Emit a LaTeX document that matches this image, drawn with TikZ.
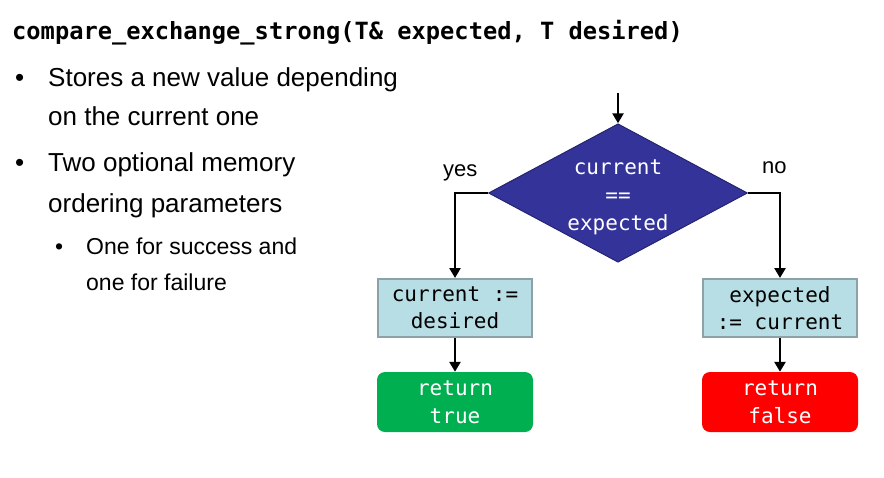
\documentclass[tikz,border=0pt]{standalone}
\usepackage{fontspec}
\setmainfont{Liberation Sans}
\newfontfamily\codefont{DejaVu Sans Mono}
\usetikzlibrary{shapes.geometric,arrows.meta}
\definecolor{diafill}{RGB}{51,51,153}
\definecolor{diaedge}{RGB}{36,36,110}
\definecolor{boxfill}{RGB}{183,222,228}
\definecolor{boxedge}{RGB}{140,162,166}
\definecolor{okgreen}{RGB}{0,176,80}
\definecolor{failred}{RGB}{255,0,0}
\begin{document}
\begin{tikzpicture}[x=1pt,y=-1pt,
  conn/.style={line width=2.7pt,-{Triangle[length=10pt,width=11pt]}},
  body/.style={font=\fontsize{26}{30}\selectfont,anchor=base west,inner sep=0pt},
  subbody/.style={font=\fontsize{23}{27}\selectfont,anchor=base west,inner sep=0pt},
  lbl/.style={font=\fontsize{22}{26}\selectfont,anchor=base west,inner sep=0pt},
  decision/.style={diamond,aspect=1.87,draw=diaedge,line width=1pt,fill=diafill,text=white,align=center,
    minimum width=258pt,minimum height=138pt,inner sep=0pt,font=\codefont\fontsize{21}{28}\selectfont},
  action/.style={rectangle,draw=boxedge,line width=2pt,fill=boxfill,align=center,
    minimum width=154pt,minimum height=58pt,inner sep=0pt,font=\codefont\fontsize{21}{27}\selectfont},
  result/.style={rectangle,rounded corners=8pt,text=white,align=center,
    minimum width=156pt,minimum height=60pt,inner sep=0pt,font=\codefont\fontsize{21}{28}\selectfont}]
\useasboundingbox (0,0) rectangle (884,477);

\node[anchor=base west,inner sep=0pt,font=\codefont\bfseries\fontsize{23.7}{28}\selectfont] (title) at (12,39) {compare\_exchange\_strong(T\& expected, T desired)};

\node[body] (b1) at (15,86) {•};
\node[body] (t1) at (48,86) {Stores a new value depending};
\node[body] (t1b) at (48,125) {on the current one};
\node[body] (b2) at (15,171) {•};
\node[body] (t2) at (48,171) {Two optional memory};
\node[body] (t2b) at (48,212) {ordering parameters};
\node[subbody] (b3) at (55,254) {•};
\node[subbody] (t3) at (86,254) {One for success and};
\node[subbody] (t3b) at (86,290) {one for failure};

\coordinate (start) at (618,93);
\node[decision] (dec) at (618,193) {\rule{0pt}{24pt}current\\==\\expected};
\node[lbl] (yes) at (443,176) {yes};
\node[lbl] (no) at (762,173) {no};

\node[action] (act1) at (455,308) {current :=\\desired};
\node[action] (act2) at (780,308) {expected\\:= current};
\node[result,fill=okgreen] (res1) at (455,402) {return\\true};
\node[result,fill=failred] (res2) at (780,402) {return\\false};

\draw[conn] (start) -- (dec.north);
\draw[conn] (dec.west) -| (act1.north);
\draw[conn] (dec.east) -| (act2.north);
\draw[conn] (act1) -- (res1);
\draw[conn] (act2) -- (res2);
\end{tikzpicture}
\end{document}
